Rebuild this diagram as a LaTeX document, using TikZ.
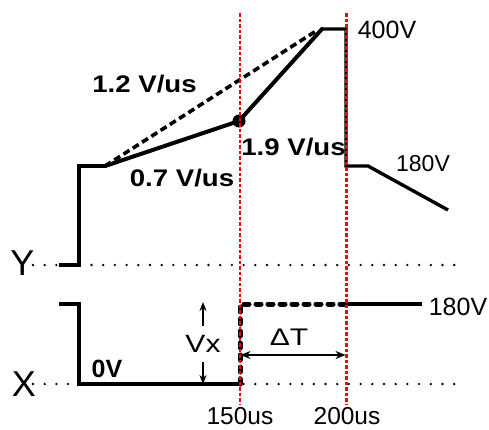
\documentclass[tikz,border=0pt]{standalone}
\usepackage{fontspec}
\setmainfont{Liberation Sans}
\usetikzlibrary{arrows.meta}
\tikzset{
  wave/.style={line width=3.4pt, line join=miter},
  slope/.style={line width=4pt, line cap=round},
  dashslope/.style={line width=3.6pt, dash pattern=on 7pt off 4pt},
  thickdash/.style={line width=5pt, line cap=round, dash pattern=on 5pt off 7pt},
  redline/.style={red, line width=2.6pt, dash pattern=on 3.5pt off 2pt},
  baseline dots/.style={line width=2.6pt, line cap=round, dash pattern=on 0pt off 11.7pt},
  lbl/.style={anchor=base, inner sep=0pt, font=\fontsize{24}{24}\selectfont},
  blbl/.style={anchor=base, inner sep=0pt, font=\fontsize{24}{24}\selectfont\bfseries},
  big/.style={anchor=base, inner sep=0pt, font=\fontsize{36}{36}\selectfont},
  dim/.style={line width=1.5pt, -{Stealth[length=9pt,width=7pt]}},
}
\begin{document}
\begin{tikzpicture}[x=1pt,y=-1pt]
\useasboundingbox (0,0) rectangle (489,429);
% coordinates
\coordinate (ys) at (59,265);
\coordinate (yc) at (79,265);
\coordinate (yt) at (79,166);
\coordinate (ya) at (105,166);
\coordinate (yk) at (239,121);
\coordinate (yp) at (322,29);
\coordinate (yq) at (346,29);
\coordinate (yr) at (346,166);
\coordinate (yu) at (368,166);
\coordinate (yv) at (448,210);
\coordinate (dend) at (316,31);
\coordinate (xs) at (59,304);
\coordinate (xc) at (79,304);
\coordinate (xb) at (79,384);
\coordinate (xe) at (240,384);
\coordinate (xf) at (240,304);
\coordinate (xg) at (346,304);
\coordinate (xh) at (422,304);
\coordinate (yl0) at (33,265);
\coordinate (yl1) at (456,265);
\coordinate (xl0) at (33,384);
\coordinate (xl1) at (461,384);
\coordinate (r1t) at (240,13);
\coordinate (r1b) at (240,405);
\coordinate (r2t) at (346.5,13);
\coordinate (r2b) at (346.5,405);
\coordinate (va0) at (203,326);
\coordinate (va1) at (203,302);
\coordinate (vb0) at (203,362);
\coordinate (vb1) at (203,384);
\coordinate (dt0) at (240.5,355);
\coordinate (dt1) at (345.5,355);
% baselines
\draw[baseline dots] (yl0) -- (yl1);
\draw[baseline dots] (xl0) -- (xl1);
% Y waveform
\draw[wave] (ys) -- (yc) -- (yt) -- (ya);
\draw[slope] (ya) -- (yk) -- (yp);
\draw[wave] (yp) -- (yq) -- (yr) -- (yu) -- (yv);
\draw[dashslope] (ya) -- (dend);
\fill (yk) circle (6.5pt);
% X waveform
\draw[wave] (xs) -- (xc) -- (xb) -- (xe);
\draw[thickdash] (xe) -- (xf) -- (xg);
\draw[wave] (xg) -- (xh);
% red markers
\draw[redline] (r1t) -- (r1b);
\draw[redline] (r2t) -- (r2b);
% dimensions
\draw[dim] (va0) -- (va1);
\draw[dim] (vb0) -- (vb1);
\draw[line width=1.8pt, {Stealth[length=10pt,width=8pt]}-{Stealth[length=10pt,width=8pt]}] (dt0) -- (dt1);
% labels
\node[lbl, font=\fontsize{25}{25}\selectfont] (t400) at (387,38) {400V};
\node[blbl] (t12) at (144.5,92) {\scalebox{1.15}[1]{1.2 V/us}};
\node[blbl] (t19) at (293.5,155) {\scalebox{1.15}[1]{1.9 V/us}};
\node[blbl] (t07) at (182,186) {\scalebox{1.15}[1]{0.7 V/us}};
\node[lbl, font=\fontsize{23}{23}\selectfont] (t180a) at (423,171) {180V};
\node[big] (tY) at (22.5,275) {Y};
\node[big] (tX) at (24,396) {X};
\node[lbl, font=\fontsize{25}{25}\selectfont] (t180b) at (458,315) {180V};
\node[blbl, font=\fontsize{25}{25}\selectfont\bfseries] (t0v) at (107,377) {0V};
\node[lbl, font=\fontsize{25}{25}\selectfont] (tvx) at (203,352) {\scalebox{1.2}[1]{Vx}};
\node[lbl, font=\fontsize{24}{24}\selectfont] (tdt) at (289,345) {\scalebox{1.25}[1]{ΔT}};
\node[lbl, font=\fontsize{24.5}{24.5}\selectfont] (t150) at (240,424) {150us};
\node[lbl, font=\fontsize{24.5}{24.5}\selectfont] (t200) at (347,424) {200us};
\end{tikzpicture}
\end{document}
